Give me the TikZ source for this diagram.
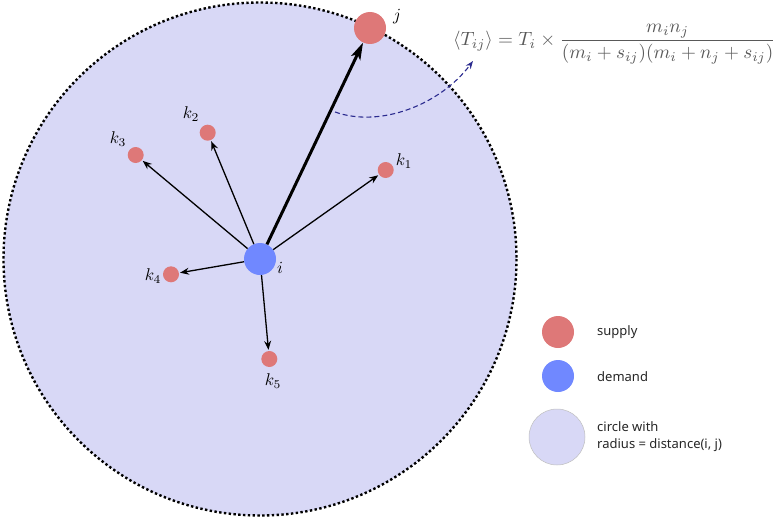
\documentclass[tikz,border=0pt]{standalone}
\usepackage{fontspec}
\setsansfont{Noto Sans}
\usetikzlibrary{arrows.meta}
\definecolor{lav}{HTML}{D8D8F6}
\definecolor{sup}{HTML}{DE7878}
\definecolor{dem}{HTML}{7088FF}
\definecolor{navy}{HTML}{2B2B8F}
\newcommand{\lbl}[1]{\scalebox{1.7}{$#1$}}
\begin{document}
\begin{tikzpicture}[x=1pt,y=-1pt,
  supnode/.style={circle,fill=sup,inner sep=0pt,minimum size=#1},
  supnode/.default=16pt,
  demnode/.style={circle,fill=dem,inner sep=0pt,minimum size=32pt},
  arr/.style={-{Stealth[length=9pt,width=7pt,inset=3pt]},line width=1.3pt,shorten >=1pt},
  bigarr/.style={-{Stealth[length=17pt,width=10pt,inset=4pt]},line width=3pt},
  lab/.style={font=\fontsize{10}{12}\selectfont,inner sep=0pt},
  legtext/.style={font=\sffamily\fontsize{13}{17}\selectfont,anchor=west,inner sep=0pt,align=left,text=black!85}
]
\useasboundingbox (0,0) rectangle (784,519);
\draw[fill=lav,line width=2.4pt,dash pattern=on 2.4pt off 2.4pt] (260,259) circle (256.5);
\node[demnode] (i) at (260,259) {};
\node[supnode=32pt] (j) at (370,28) {};
\node[supnode] (k1) at (385.7,170) {};
\node[supnode] (k2) at (207.7,132.7) {};
\node[supnode] (k3) at (135.7,155) {};
\node[supnode] (k4) at (171,274.3) {};
\node[supnode] (k5) at (269.3,359) {};
\node[lab] at (280,268) {\lbl{i}};
\node[lab] at (397,17) {\lbl{j}};
\node[lab] at (404,161) {\lbl{k_1}};
\node[lab] at (191,114) {\lbl{k_2}};
\node[lab] at (118,139) {\lbl{k_3}};
\node[lab] at (153,276) {\lbl{k_4}};
\node[lab] at (273,381) {\lbl{k_5}};
\draw[bigarr] (i) -- (j);
\foreach \k in {k1,k2,k3,k4,k5} \draw[arr] (i) -- (\k);
\coordinate (ds) at (335,112);
\coordinate (de) at (473,61);
\draw[navy,line width=1.1pt,dash pattern=on 5pt off 3pt,-{Stealth[length=8pt,width=6pt]}] (ds) .. controls (380,128) and (440,105) .. (de);
\node[text=black!65,font=\fontsize{10}{12}\selectfont,anchor=west,inner sep=0pt] (f) at (453,44) {\scalebox{1.92}{$\displaystyle\langle T_{ij}\rangle = T_i\times\frac{m_in_j}{(m_i+s_{ij})(m_i+n_j+s_{ij})}$}};
\node[supnode=32pt] (ls) at (558,332) {};
\node[demnode] (ld) at (558,376) {};
\node[circle,fill=lav,draw=black!25,line width=0.5pt,inner sep=0pt,minimum size=56pt] (lc) at (557,437) {};
\node[legtext] at (597,332) {supply};
\node[legtext] at (597,377) {demand};
\node[legtext] at (597,437) {circle with\\radius = distance(i, j)};
\end{tikzpicture}
\end{document}
